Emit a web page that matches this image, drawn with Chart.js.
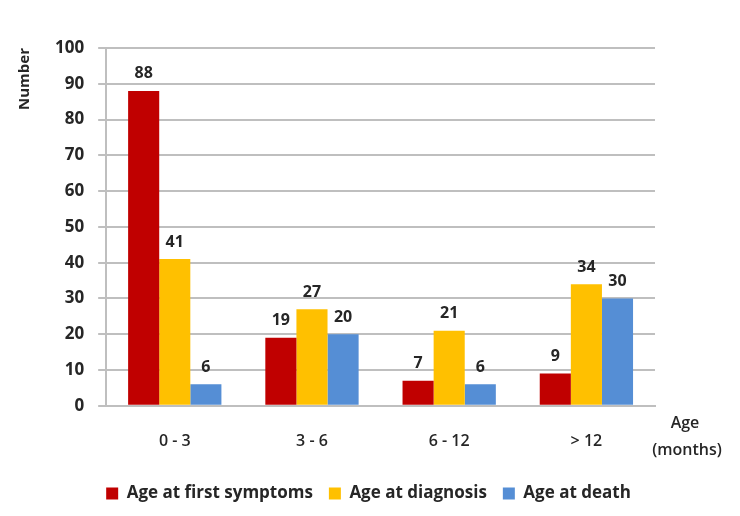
<!DOCTYPE html>
<html>
<head>
<meta charset="utf-8">
<script src="https://cdn.jsdelivr.net/npm/chart.js@4/dist/chart.umd.min.js"></script>
<style>
  html, body { margin: 0; padding: 0; background: #fff; }
  #wrap { width: 740px; height: 516px; }
</style>
</head>
<body>
<div id="wrap"><canvas id="myChart" width="740" height="516"></canvas></div>
<script>
const categories = ["0 - 3", "3 - 6", "6 - 12", "> 12"];
const firstSymptoms = [88, 19, 7, 9];
const atDiagnosis = [41, 27, 21, 34];
const atDeath = [6, 20, 6, 30];
const yTicks = [0, 10, 20, 30, 40, 50, 60, 70, 80, 90, 100];

const font = "'Open Sans', 'DejaVu Sans', sans-serif";

// numbers on top of each bar + the "Age (months)" note at the axis end
const extras = {
  id: "extras",
  afterDatasetsDraw(chart) {
    const ctx = chart.ctx;
    ctx.save();
    ctx.fillStyle = "#262626";
    ctx.font = "bold 16px " + font;
    ctx.textAlign = "center";
    ctx.textBaseline = "bottom";
    chart.data.datasets.forEach((ds, i) => {
      chart.getDatasetMeta(i).data.forEach((bar, j) => {
        ctx.fillText(ds.data[j], bar.x, bar.y - 9);
      });
    });
    const area = chart.chartArea;
    ctx.font = "600 16px " + font;
    ctx.textBaseline = "middle";
    ctx.fillText("Age", area.right + 30, area.bottom + 18);
    ctx.fillText("(months)", area.right + 32, area.bottom + 45);
    ctx.restore();
  },
};

const ctx = document.getElementById("myChart").getContext("2d");
new Chart(ctx, {
  type: "bar",
  data: {
    labels: categories,
    datasets: [
      { label: "Age at first symptoms", data: firstSymptoms, backgroundColor: "#C00000" },
      { label: "Age at diagnosis", data: atDiagnosis, backgroundColor: "#FFC000" },
      { label: "Age at death", data: atDeath, backgroundColor: "#558ED5" },
    ],
  },
  options: {
    responsive: false,
    animation: false,
    layout: { padding: { left: 12, right: 15, top: 48, bottom: 4 } },
    datasets: { bar: { categoryPercentage: 0.68, barPercentage: 1 } },
    plugins: {
      legend: {
        position: "bottom",
        labels: {
          boxWidth: 12,
          boxHeight: 12,
          padding: 16,
          color: "#262626",
          font: { family: font, size: 17, weight: "bold" },
        },
      },
      tooltip: { enabled: false },
    },
    scales: {
      x: {
        grid: { display: false },
        border: { color: "#BFBFBF", width: 2 },
        ticks: { color: "#262626", padding: 18, font: { family: font, size: 16, weight: "600" } },
      },
      y: {
        min: 0,
        max: 100,
        afterBuildTicks: (axis) => { axis.ticks = yTicks.map((v) => ({ value: v })); },
        grid: { color: "#BFBFBF", lineWidth: 2, drawTicks: true, tickLength: 8 },
        border: { color: "#BFBFBF", width: 2 },
        ticks: { color: "#262626", padding: 14, font: { family: font, size: 17, weight: "bold" } },
        title: {
          display: true,
          text: "Number",
          align: "end",
          color: "#262626",
          padding: { bottom: 7 },
          font: { family: font, size: 15, weight: "bold" },
        },
      },
      // empty axis on the right, only reserves room for the "Age (months)" note
      spacer: {
        position: "right",
        grid: { display: false },
        border: { display: false },
        ticks: { display: false },
        afterFit: (axis) => { axis.width = 70; },
      },
    },
  },
  plugins: [extras],
});
</script>
</body>
</html>
